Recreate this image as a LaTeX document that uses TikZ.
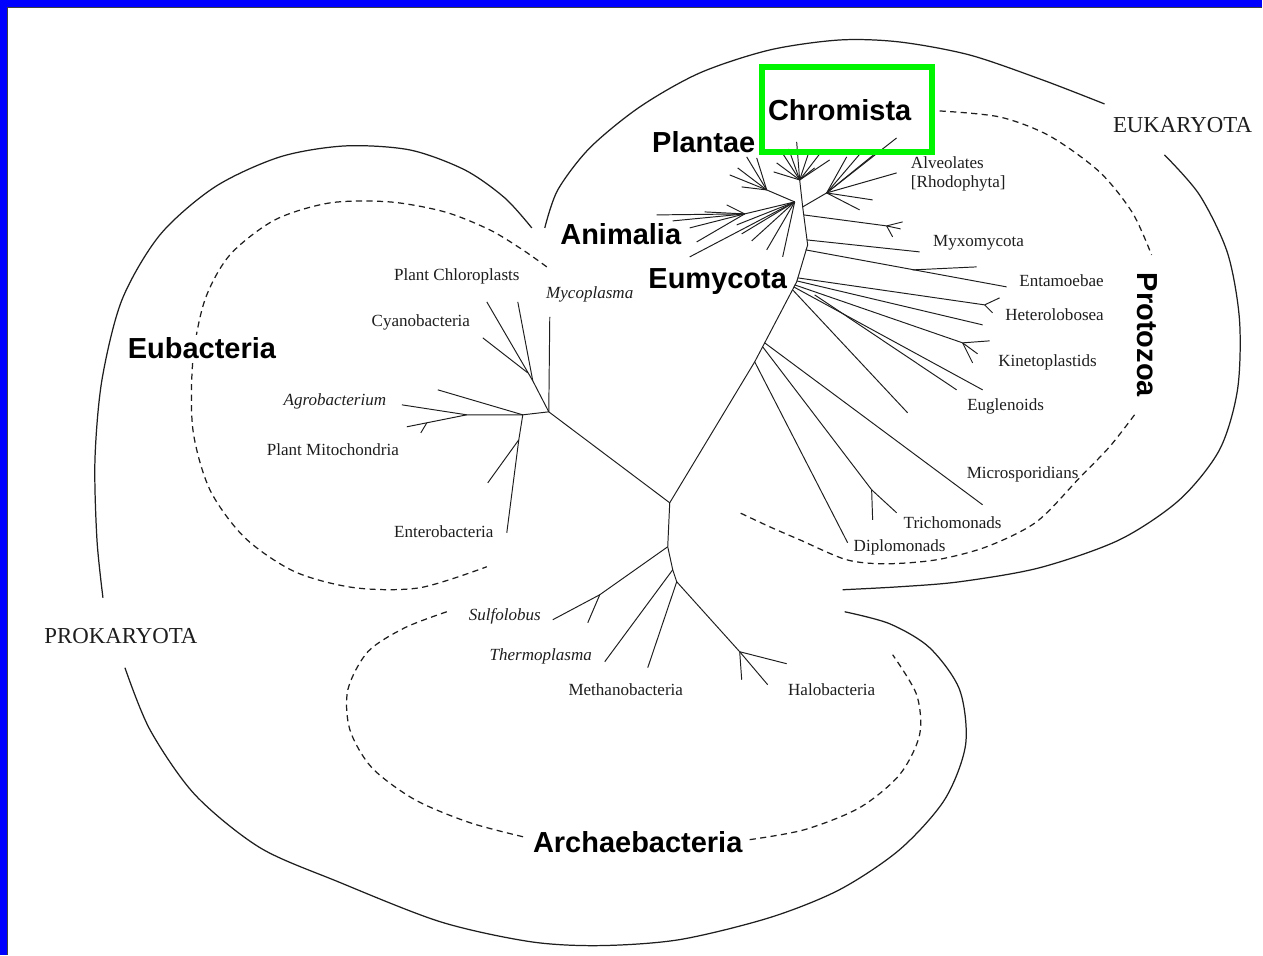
\documentclass[tikz,border=0pt]{standalone}
\usepackage{fontspec}
\setmainfont{Liberation Serif}
\setsansfont{Liberation Sans}
\definecolor{slideblue}{RGB}{0,0,255}
\definecolor{hilite}{RGB}{0,245,0}
\definecolor{ink}{RGB}{30,30,30}
\tikzset{
  twig/.style={draw=ink, line width=0.55pt},
  hull/.style={draw=ink, line width=0.7pt},
  hulldash/.style={hull, dash pattern=on 3.5pt off 2.5pt},
  taxon/.style={font=\fontsize{9.7}{11}\selectfont, inner sep=0pt, text=ink},
  taxonit/.style={taxon, font=\itshape\fontsize{9.7}{11}\selectfont},
  kingdomlbl/.style={font=\sffamily\bfseries\fontsize{16.5}{18}\selectfont, fill=white, inner sep=1pt},
  superlbl/.style={font=\fontsize{13}{15}\selectfont, inner sep=0pt, text=ink},
}

\begin{document}
\begin{tikzpicture}[x=0.02cm, y=-0.02cm]
    % slide frame
    \fill[slideblue] (0,0) rectangle (1263,955);
    \fill[white] (8,8) rectangle (1263,955);
    \draw[black!75, line width=0.6pt] (7.5,955) -- (7.5,7.5) -- (1263,7.5);
    \useasboundingbox (0,0) rectangle (1263,955);

    % prokaryote hull
    \draw[hull] plot[smooth] coordinates {(532,228) (505,198) (465,170) (410,150) (345,146) (280,157) (215,187) (160,235) (122,300) (102,380) (95,460) (97,540) (103,598)};
    \draw[hull] plot[smooth] coordinates {(125,668) (150,730) (195,795) (260,848) (338,882) (440,922) (530,942) (600,946) (680,940) (770,918) (840,890) (900,850) (945,800) (966,745) (960,690) (930,648) (890,624) (845,612)};
    % eukaryote hull
    \draw[hull] plot[smooth] coordinates {(545,228) (558,190) (590,148) (640,107) (700,73) (770,50) (840,40) (900,42) (970,55) (1043,80) (1105,104)};
    \draw[hull] plot[smooth] coordinates {(1165,155) (1200,195) (1228,253) (1240,320) (1238,390) (1220,450) (1180,500) (1120,540) (1040,568) (960,582) (900,587) (843,590)};
    % kingdom outlines
    \draw[hulldash] plot[smooth] coordinates {(547,267) (523,250) (490,230) (445,212) (390,202) (330,203) (275,220) (230,255) (205,300) (193,360) (193,430) (210,490) (245,538) (295,572) (355,588) (420,588) (487,567)};
    \draw[hulldash] plot[smooth] coordinates {(940,111) (1000,117) (1050,136) (1100,172) (1133,213) (1152,255)};
    \draw[hulldash] plot[smooth] coordinates {(1135,415) (1110,447) (1080,478) (1037,522) (987,547) (937,560) (887,564) (847,560) (800,540) (770,527) (738,512)};
    \draw[hulldash] plot[smooth] coordinates {(447,612) (405,628) (368,652) (348,690) (350,730) (372,768) (415,800) (470,823) (527,838)};
    \draw[hulldash] plot[smooth] coordinates {(750,840) (805,830) (860,808) (900,775) (920,735) (917,695) (893,655)};

    % big group names
    \node[kingdomlbl] (chromista) at (840,110) {Chromista};
    \node[kingdomlbl] (plantae) at (704,142) {Plantae};
    \node[kingdomlbl] (animalia) at (621,234) {Animalia};
    \node[kingdomlbl] (eumycota) at (718,282) {Eumycota};
    \node[kingdomlbl] (eubacteria) at (202,348) {Eubacteria};
    \node[kingdomlbl, rotate=-90] (protozoa) at (1148,335) {Protozoa};
    \node[kingdomlbl] (archaebacteria) at (638,842) {Archaebacteria};
    \node[superlbl] (eukaryota) at (1183,125) {EUKARYOTA};
    \node[superlbl] (prokaryota) at (121,636) {PROKARYOTA};

    % tree nodes
    \coordinate (root) at (670,503);
    \coordinate (eub) at (549,412);
    \coordinate (arc) at (668,547);
    \coordinate (dip) at (755,362);
    \coordinate (pz1) at (765,343);
    \coordinate (pz3) at (797,282);
    \coordinate (pz4) at (808,245);
    \coordinate (crown) at (803,207);
    \coordinate (cl) at (795,202);

    % eubacteria
    \coordinate (myco) at (550,317);
    \coordinate (chl) at (533,381);
    \coordinate (chlA) at (518,302);
    \coordinate (chlB) at (487,302);
    \coordinate (cyn) at (528,373);
    \coordinate (cynT) at (483,338);
    \coordinate (agn) at (523,415);
    \coordinate (agm) at (467,415);
    \coordinate (agT) at (402,405);
    \coordinate (agU) at (438,390);
    \coordinate (mitT) at (407,427);
    \coordinate (mitK) at (427,423);
    \coordinate (mitU) at (421,433);
    \coordinate (ent) at (519,440);
    \coordinate (entT) at (507,533);
    \coordinate (entU) at (488,483);
    \draw[twig] (root) -- (eub) -- (myco);
    \draw[twig] (eub) -- (chl) -- (chlA);
    \draw[twig] (chl) -- (chlB);
    \draw[twig] (cyn) -- (cynT);
    \draw[twig] (eub) -- (agn) -- (agm) -- (agT);
    \draw[twig] (agn) -- (agU);
    \draw[twig] (agm) -- (mitT);
    \draw[twig] (mitK) -- (mitU);
    \draw[twig] (agn) -- (ent) -- (entT);
    \draw[twig] (ent) -- (entU);

    % archaebacteria
    \coordinate (sul) at (600,595);
    \coordinate (sulT) at (553,620);
    \coordinate (sulU) at (588,623);
    \coordinate (thm) at (673,570);
    \coordinate (thmT) at (605,662);
    \coordinate (mth) at (677,582);
    \coordinate (mthT) at (648,668);
    \coordinate (hal) at (740,652);
    \draw[twig] (root) -- (arc) -- (sul) -- (sulT);
    \draw[twig] (sul) -- (sulU);
    \draw[twig] (arc) -- (thm) -- (thmT);
    \draw[twig] (thm) -- (mth) -- (mthT);
    \draw[twig] (mth) -- (hal);
    \foreach \x/\y [count=\i] in {768/685, 742/680, 787/664}
        \draw[twig] (hal) -- (\x,\y) coordinate (halT\i);

    % eukaryote trunk and protozoa
    \draw[twig] (root) -- (dip) -- (pz1) -- (pz3) -- (pz4) -- (crown);
    \foreach \sx/\sy/\ex/\ey [count=\i] in {
        804/215/887/226, 807/240/920/252, 806/250/1007/287, 798/278/985/305,
        797/281/983/325, 795/285/963/343, 794/287/983/390, 815/295/957/390,
        793/290/908/413, 765/343/983/505, 763/347/872/490, 755/362/848/543}
        \draw[twig] (\sx,\sy) -- (\ex,\ey) coordinate (pzT\i);
    \foreach \x/\y [count=\i] in {903/222, 901/229, 893/237}
        \draw[twig] (pzT1) -- (\x,\y) coordinate (myxF\i);
    \draw[twig] (913,270) -- (977,267) coordinate (entaF);
    \foreach \x/\y [count=\i] in {1000/298, 993/313}
        \draw[twig] (pzT4) -- (\x,\y) coordinate (hetF\i);
    \foreach \x/\y [count=\i] in {990/341, 978/354, 973/363}
        \draw[twig] (pzT6) -- (\x,\y) coordinate (kinF\i);
    \draw[twig] (pzT11) -- (897,513) coordinate (trcA);
    \draw[twig] (pzT11) -- (873,520) coordinate (trcB);

    % crown groups
    \coordinate (chn) at (800,180);
    \coordinate (alv) at (827,193);
    \coordinate (pln) at (767,190);
    \coordinate (anm) at (745,214);
    \draw[twig] (crown) -- (chn);
    \foreach \x/\y [count=\i] in {797/142, 782/152, 789/149, 777/163, 810/150, 820/154, 830/160, 774/172, 815/168}
        \draw[twig] (chn) -- (\x,\y) coordinate (chrT\i);
    \draw[twig] (crown) -- (alv);
    \foreach \x/\y [count=\i] in {897/138, 847/157, 862/152, 880/150, 897/173, 873/200, 860/210}
        \draw[twig] (alv) -- (\x,\y) coordinate (alvT\i);
    \draw[twig] (cl) -- (pln);
    \foreach \x/\y [count=\i] in {747/157, 757/158, 738/168, 730/175, 742/187}
        \draw[twig] (pln) -- (\x,\y) coordinate (plnT\i);
    \draw[twig] (cl) -- (anm);
    \foreach \x/\y [count=\i] in {657/215, 673/221, 690/228, 697/242, 727/205, 705/212}
        \draw[twig] (anm) -- (\x,\y) coordinate (anmT\i);
    \foreach \x/\y [count=\i] in {690/257, 737/225, 742/234, 752/241, 767/250, 783/257}
        \draw[twig] (cl) -- (\x,\y) coordinate (clT\i);

    % highlight
    \draw[hilite, line width=3.4pt] (762,67) rectangle (932,152);

    % leaf names
    \node[taxon] (chloro) at (457,277) {Plant Chloroplasts};
    \node[taxon] (cyano) at (421,323) {Cyanobacteria};
    \node[taxonit] (mycoplasma) at (590,295) {Mycoplasma};
    \node[taxonit] (agro) at (335,402) {Agrobacterium};
    \node[taxon] (mito) at (333,450) {Plant Mitochondria};
    \node[taxon] (entero) at (444,532) {Enterobacteria};
    \node[taxonit] (sulfo) at (505,617) {Sulfolobus};
    \node[taxonit] (thermo) at (541,657) {Thermoplasma};
    \node[taxon] (methano) at (626,690) {Methanobacteria};
    \node[taxon] (halo) at (832,690) {Halobacteria};
    \node[taxon, align=left, anchor=north west] (alveo) at (911,156) {Alveolates\\{}[Rhodophyta]};
    \node[taxon] (myxo) at (979,243) {Myxomycota};
    \node[taxon] (entamoeba) at (1062,281) {Entamoebae};
    \node[taxon] (hetero) at (1055,315) {Heterolobosea};
    \node[taxon] (kineto) at (1048,363) {Kinetoplastids};
    \node[taxon] (eugleno) at (1006,407) {Euglenoids};
    \node[taxon] (microsp) at (1023,475) {Microsporidians};
    \node[taxon] (tricho) at (953,523) {Trichomonads};
    \node[taxon] (diplo) at (900,548) {Diplomonads};
\end{tikzpicture}
\end{document}
